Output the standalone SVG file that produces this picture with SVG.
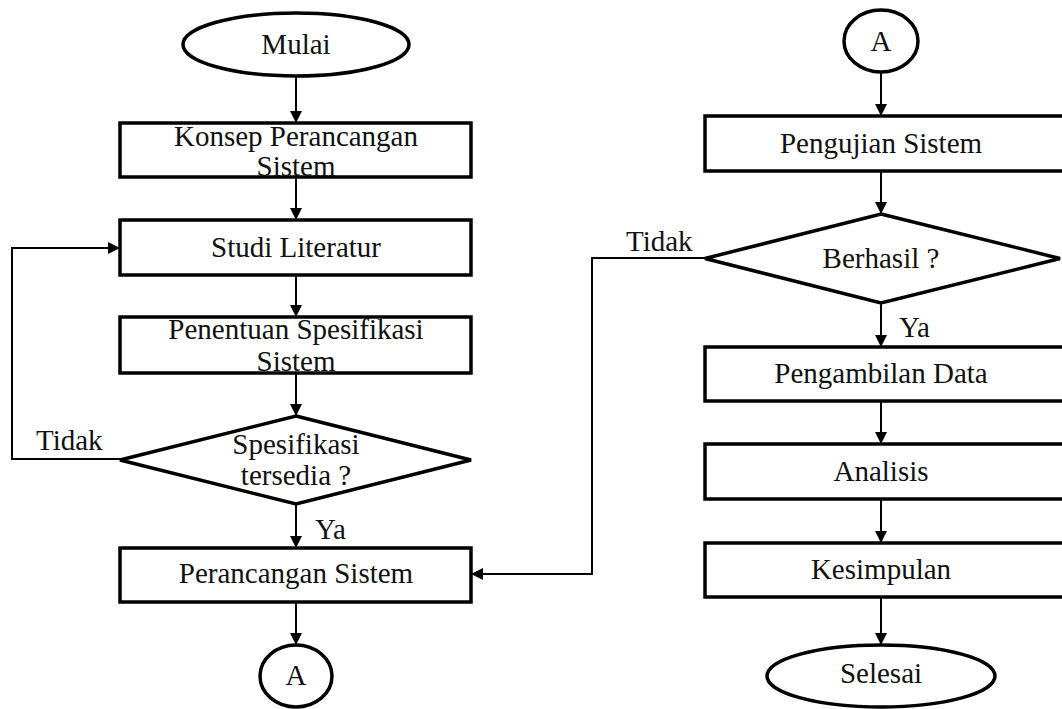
<svg xmlns="http://www.w3.org/2000/svg" width="1062" height="709" viewBox="0 0 1062 709">
<style>
.shape{fill:#fff;stroke:#000;stroke-width:3.5}
.line{fill:none;stroke:#000;stroke-width:2}
.t{font-family:"Liberation Serif","Times New Roman",serif;font-size:29px;fill:#111;text-anchor:middle}
.l{font-family:"Liberation Serif","Times New Roman",serif;font-size:29px;fill:#111}
</style>
<defs>
<marker id="ah" viewBox="0 0 12 12" refX="12" refY="6" markerWidth="12" markerHeight="12" markerUnits="userSpaceOnUse" orient="auto">
<path d="M0,0 L12,6 L0,12 Z" fill="#000"/>
</marker>
</defs>
<rect width="1062" height="709" fill="#fff"/>
<g id="connectors">
<line class="line" x1="296" y1="76" x2="296" y2="123" marker-end="url(#ah)"/>
<line class="line" x1="296" y1="177" x2="296" y2="220" marker-end="url(#ah)"/>
<line class="line" x1="296" y1="275" x2="296" y2="317" marker-end="url(#ah)"/>
<line class="line" x1="296" y1="373" x2="296" y2="416" marker-end="url(#ah)"/>
<line class="line" x1="296" y1="504" x2="296" y2="548" marker-end="url(#ah)"/>
<line class="line" x1="296" y1="602" x2="296" y2="645" marker-end="url(#ah)"/>
<polyline class="line" points="120,459 12,459 12,248 120,248" marker-end="url(#ah)"/>
<line class="line" x1="881" y1="72" x2="881" y2="116" marker-end="url(#ah)"/>
<line class="line" x1="881" y1="171" x2="881" y2="214" marker-end="url(#ah)"/>
<line class="line" x1="881" y1="303" x2="881" y2="347" marker-end="url(#ah)"/>
<line class="line" x1="881" y1="401" x2="881" y2="444" marker-end="url(#ah)"/>
<line class="line" x1="881" y1="499" x2="881" y2="543" marker-end="url(#ah)"/>
<line class="line" x1="881" y1="597" x2="881" y2="645" marker-end="url(#ah)"/>
<polyline class="line" points="705,258 592,258 592,574 471,574" marker-end="url(#ah)"/>
<text class="l" x="36" y="450">Tidak</text>
<text class="l" x="315" y="539">Ya</text>
<text class="l" x="626" y="251">Tidak</text>
<text class="l" x="899" y="337">Ya</text>
</g>
<g id="mulai">
<ellipse class="shape" cx="296" cy="44.5" rx="113" ry="31.5"/>
<text class="t" x="296" y="54">Mulai</text>
</g>
<g id="konsep">
<rect class="shape" x="120" y="123" width="351" height="54"/>
<text class="t" x="296" y="146">Konsep Perancangan</text>
<text class="t" x="296" y="176">Sistem</text>
</g>
<g id="studi">
<rect class="shape" x="120" y="220" width="351" height="55"/>
<text class="t" x="296" y="257">Studi Literatur</text>
</g>
<g id="penentuan">
<rect class="shape" x="120" y="317" width="351" height="56"/>
<text class="t" x="296" y="339">Penentuan Spesifikasi</text>
<text class="t" x="296" y="371">Sistem</text>
</g>
<g id="spesifikasi">
<polygon class="shape" points="296,416 471,460 296,504 120,460"/>
<text class="t" x="296" y="454">Spesifikasi</text>
<text class="t" x="296" y="485">tersedia ?</text>
</g>
<g id="perancangan">
<rect class="shape" x="120" y="548" width="351" height="54"/>
<text class="t" x="296" y="583">Perancangan Sistem</text>
</g>
<g id="a-left">
<ellipse class="shape" cx="296" cy="676" rx="36" ry="31"/>
<text class="t" x="296" y="685">A</text>
</g>
<g id="a-right">
<ellipse class="shape" cx="881" cy="41" rx="37" ry="31"/>
<text class="t" x="881" y="51">A</text>
</g>
<g id="pengujian">
<rect class="shape" x="705" y="116" width="362" height="55"/>
<text class="t" x="881" y="153">Pengujian Sistem</text>
</g>
<g id="berhasil">
<polygon class="shape" points="881,214 1060,258.5 881,303 705,258.5"/>
<text class="t" x="881" y="268">Berhasil ?</text>
</g>
<g id="pengambilan">
<rect class="shape" x="705" y="347" width="362" height="54"/>
<text class="t" x="881" y="383">Pengambilan Data</text>
</g>
<g id="analisis">
<rect class="shape" x="705" y="444" width="362" height="55"/>
<text class="t" x="881" y="481">Analisis</text>
</g>
<g id="kesimpulan">
<rect class="shape" x="705" y="543" width="362" height="54"/>
<text class="t" x="881" y="579">Kesimpulan</text>
</g>
<g id="selesai">
<ellipse class="shape" cx="881" cy="676" rx="114" ry="31"/>
<text class="t" x="881" y="683">Selesai</text>
</g>
</svg>
